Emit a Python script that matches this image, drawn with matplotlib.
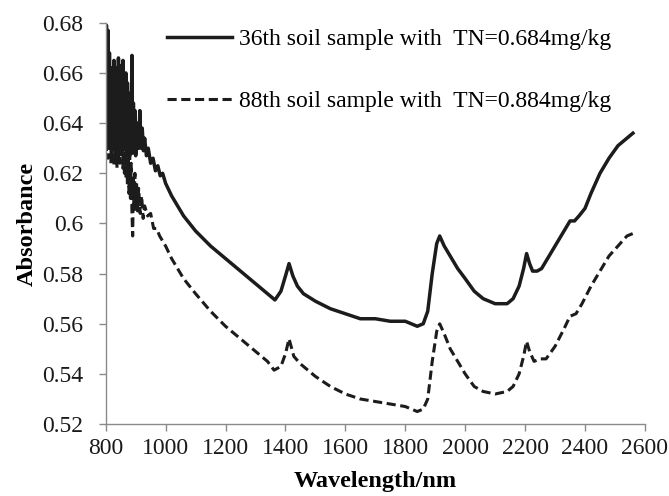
import matplotlib.pyplot as plt

# 36th soil sample (TN=0.684mg/kg)
wl_36 = [800, 802.5, 805, 807.5, 810, 812.5, 815, 817.5, 820, 822.5, 825, 827.5, 830,
         832.5, 835, 837.5, 840, 842.5, 845, 847.5, 850, 852.5, 855, 857.5, 860, 862.5,
         865, 867.5, 870, 872.5, 875, 877.5, 880, 882.5, 885, 887.5, 890, 892.5, 895,
         897.5, 900, 903, 906, 910, 914, 918, 922, 926, 930, 936, 942, 950, 958, 966,
         974, 982, 990, 1000, 1020, 1040, 1060, 1080, 1100, 1150, 1200, 1250, 1300,
         1340, 1365, 1385, 1400, 1412, 1425, 1440, 1460, 1500, 1550, 1600, 1650, 1700,
         1750, 1800, 1840, 1860, 1875, 1890, 1905, 1915, 1930, 1950, 1975, 2000, 2030,
         2060, 2100, 2140, 2160, 2180, 2195, 2205, 2215, 2225, 2240, 2255, 2270, 2300,
         2330, 2350, 2365, 2380, 2400, 2420, 2450, 2480, 2510, 2540, 2560]
abs_36 = [0.655, 0.679, 0.632, 0.677, 0.630, 0.668, 0.634, 0.662, 0.628, 0.660, 0.640,
          0.665, 0.630, 0.656, 0.636, 0.662, 0.629, 0.666, 0.633, 0.658, 0.631, 0.663,
          0.638, 0.665, 0.630, 0.655, 0.634, 0.660, 0.628, 0.656, 0.633, 0.650, 0.627,
          0.652, 0.636, 0.667, 0.628, 0.648, 0.630, 0.645, 0.627, 0.630, 0.640,
          0.630, 0.645, 0.630, 0.638, 0.629, 0.634, 0.627, 0.630, 0.624, 0.626, 0.621,
          0.623, 0.619, 0.620, 0.616, 0.611, 0.607, 0.603, 0.600, 0.597, 0.591, 0.586,
          0.581, 0.576, 0.572, 0.5695, 0.573, 0.579, 0.584, 0.579, 0.575, 0.572, 0.569,
          0.566, 0.564, 0.562, 0.562, 0.561, 0.561, 0.559, 0.560, 0.565, 0.580, 0.592,
          0.595, 0.591, 0.587, 0.582, 0.578, 0.573, 0.570, 0.568, 0.568, 0.570, 0.575,
          0.582, 0.588, 0.584, 0.581, 0.581, 0.582, 0.585, 0.591, 0.597, 0.601, 0.601,
          0.603, 0.606, 0.612, 0.620, 0.626, 0.631, 0.634, 0.636]

# 88th soil sample (TN=0.884mg/kg)
wl_88 = [800, 802.5, 805, 807.5, 810, 812.5, 815, 817.5, 820, 822.5, 825, 827.5, 830,
         832.5, 835, 837.5, 840, 842.5, 845, 847.5, 850, 852.5, 855, 857.5, 860, 862.5,
         865, 867.5, 870, 872.5, 875, 877.5, 880, 882.5, 885, 887.5, 890, 892.5, 895,
         897.5, 900, 903, 906, 910, 915, 920, 925, 930, 940, 950, 960, 970, 980, 990,
         1000, 1020, 1040, 1060, 1080, 1100, 1150, 1200, 1250, 1300, 1340, 1362, 1385,
         1400, 1412, 1428, 1450, 1500, 1550, 1600, 1650, 1700, 1750, 1800, 1840, 1860,
         1875, 1890, 1905, 1915, 1930, 1950, 1975, 2000, 2030, 2060, 2100, 2140, 2160,
         2180, 2195, 2205, 2215, 2230, 2250, 2270, 2300, 2330, 2350, 2370, 2390, 2420,
         2450, 2480, 2510, 2540, 2560]
abs_88 = [0.660, 0.628, 0.664, 0.626, 0.656, 0.630, 0.652, 0.624, 0.650, 0.630, 0.648,
          0.623, 0.654, 0.627, 0.645, 0.622, 0.650, 0.625, 0.646, 0.624, 0.648, 0.628,
          0.650, 0.622, 0.642, 0.620, 0.640, 0.618, 0.638, 0.615, 0.632, 0.612, 0.630,
          0.610, 0.624, 0.605, 0.595, 0.618, 0.606, 0.620, 0.605, 0.616, 0.605, 0.614,
          0.604, 0.611, 0.602, 0.607, 0.603, 0.604, 0.598, 0.598, 0.595, 0.593, 0.591,
          0.586, 0.582, 0.578, 0.575, 0.572, 0.565, 0.559, 0.554, 0.549, 0.545, 0.5415,
          0.543, 0.548, 0.554, 0.547, 0.544, 0.539, 0.535, 0.532, 0.530, 0.529, 0.528,
          0.527, 0.525, 0.526, 0.530, 0.545, 0.557, 0.560, 0.556, 0.550, 0.545, 0.540,
          0.535, 0.533, 0.532, 0.533, 0.535, 0.540, 0.547, 0.553, 0.549, 0.545, 0.546,
          0.546, 0.551, 0.558, 0.563, 0.564, 0.568, 0.575, 0.581, 0.587, 0.591, 0.595,
          0.596]

label_36 = "36th soil sample with  TN=0.684mg/kg"
label_88 = "88th soil sample with  TN=0.884mg/kg"

plt.rcParams['font.family'] = ['Liberation Serif', 'DejaVu Serif']

fig = plt.figure(figsize=(6.69, 4.96), dpi=100)
ax = fig.add_axes([0.158, 0.145, 0.806, 0.809])

ax.plot(wl_36, abs_36, color='#1c1c1c', lw=2.5, label=label_36)
ax.plot(wl_88, abs_88, color='#1c1c1c', lw=2.2, dashes=(3.0, 1.5), label=label_88)

ax.set_xlim(800, 2600)
ax.set_ylim(0.52, 0.68)
ax.set_xticks(range(800, 2601, 200))
ax.set_yticks([0.52, 0.54, 0.56, 0.58, 0.6, 0.62, 0.64, 0.66, 0.68])
ax.set_yticklabels(['0.52', '0.54', '0.56', '0.58', '0.6', '0.62', '0.64', '0.66', '0.68'])

for side in ['top', 'right']:
    ax.spines[side].set_visible(False)
for side in ['left', 'bottom']:
    ax.spines[side].set_color('#8a8a8a')
    ax.spines[side].set_linewidth(1.0)
ax.tick_params(axis='both', length=5, width=1.0, color='#8a8a8a', labelsize=17,
               labelcolor='#1a1a1a')
ax.tick_params(axis='y', pad=11)
ax.tick_params(axis='x', pad=5)

ax.set_xlabel('Wavelength/nm', fontsize=17.5, fontweight='bold', labelpad=9)
ax.set_ylabel('Absorbance', fontsize=17.5, fontweight='bold', labelpad=3)

ax.legend(loc='upper left', bbox_to_anchor=(0.113, 0.985), frameon=False, fontsize=17,
          handlelength=2.75, handletextpad=0.3, labelspacing=1.7, borderpad=0,
          borderaxespad=0)

fig.savefig('out.png', dpi=100)
